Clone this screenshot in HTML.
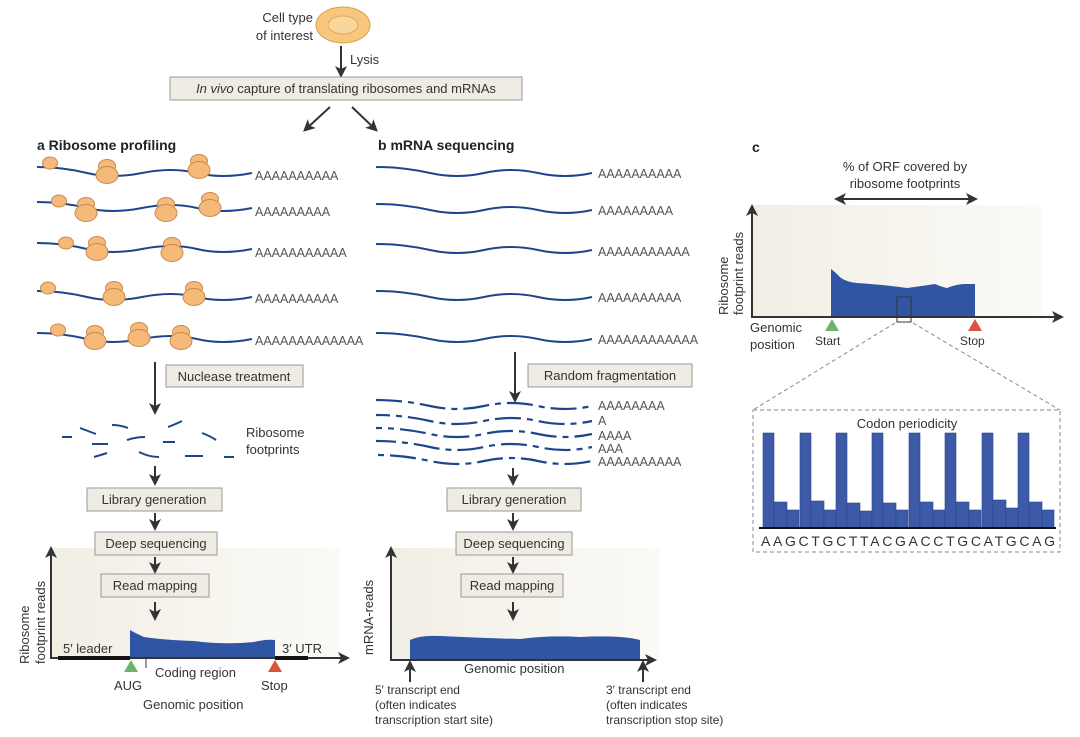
<!DOCTYPE html>
<html><head><meta charset="utf-8"><style>
body{margin:0;background:#fff}
svg{display:block;font-family:"Liberation Sans",sans-serif}
.t{fill:#333;font-size:13px}
.aa{fill:#555;font-size:12.5px}
.bx{fill:#efece3;stroke:#999;stroke-width:1}
.w{fill:none;stroke:#1d458c;stroke-width:2}
.fr{fill:none;stroke:#1d458c;stroke-width:2.2;stroke-dasharray:26 6 6 6}
.ar{stroke:#333;stroke-width:2}
</style></head><body>
<svg width="1080" height="737" viewBox="0 0 1080 737">
<defs>
<marker id="ahb" markerWidth="12" markerHeight="12" refX="8" refY="6" orient="auto-start-reverse" markerUnits="userSpaceOnUse"><path d="M0,0 L12,6 L0,12 L3,6 Z" fill="#333"/></marker>
<linearGradient id="bg" x1="0" x2="1"><stop offset="0" stop-color="#f1eee4"/><stop offset="1" stop-color="#fbfaf6"/></linearGradient>
<g id="rib"><ellipse cx="0" cy="-6" rx="8.5" ry="6.5" fill="#f5b97a" stroke="#c98a4a"/><ellipse cx="0" cy="3" rx="11" ry="8.5" fill="#f5b97a" stroke="#c98a4a"/></g>
<g id="sm"><ellipse cx="0" cy="-3" rx="7.5" ry="6" fill="#f5b97a" stroke="#c98a4a"/></g>
</defs>
<rect x="50" y="548" width="290" height="110" fill="url(#bg)"/>
<rect x="390" y="548" width="270" height="112" fill="url(#bg)"/>
<!-- top -->
<ellipse cx="343" cy="25" rx="27" ry="18" fill="#f7c77e" stroke="#d9a050"/>
<ellipse cx="343" cy="25" rx="15" ry="9" fill="#f9d79c" stroke="#e0aa60"/>
<text class="t" x="313" y="22" text-anchor="end">Cell type</text>
<text class="t" x="313" y="40" text-anchor="end">of interest</text>
<line class="ar" x1="341" y1="46" x2="341" y2="74" marker-end="url(#ahb)"/>
<text class="t" x="350" y="64">Lysis</text>
<rect class="bx" x="170" y="77" width="352" height="23"/>
<text class="t" x="346" y="93" text-anchor="middle"><tspan font-style="italic">In vivo</tspan> capture of translating ribosomes and mRNAs</text>
<line class="ar" x1="330" y1="107" x2="306" y2="129" marker-end="url(#ahb)"/>
<line class="ar" x1="352" y1="107" x2="375" y2="129" marker-end="url(#ahb)"/>
<text x="37" y="150" font-size="14" font-weight="bold" fill="#222">a  Ribosome profiling</text>
<text x="378" y="150" font-size="14" font-weight="bold" fill="#222">b  mRNA sequencing</text>
<text x="752" y="152" font-size="14" font-weight="bold" fill="#222">c</text>
<!-- a waves -->
<g>
<path class="w" d="M37 167 q25 0 50 6 t55 0 t55 0 t55 0"/>
<path class="w" d="M37 202 q25 0 50 6 t55 0 t55 0 t55 0"/>
<path class="w" d="M37 243 q25 0 50 6 t55 0 t55 0 t55 0"/>
<path class="w" d="M37 291 q25 0 50 6 t55 0 t55 0 t55 0"/>
<path class="w" d="M37 333 q25 0 50 6 t55 0 t55 0 t55 0"/>
<use href="#sm" x="50" y="166"/><use href="#rib" x="107" y="172"/><use href="#rib" x="199" y="167"/>
<use href="#sm" x="59" y="204"/><use href="#rib" x="86" y="210"/><use href="#rib" x="166" y="210"/><use href="#rib" x="210" y="205"/>
<use href="#sm" x="66" y="246"/><use href="#rib" x="97" y="249"/><use href="#rib" x="172" y="250"/>
<use href="#sm" x="48" y="291"/><use href="#rib" x="114" y="294"/><use href="#rib" x="194" y="294"/>
<use href="#sm" x="58" y="333"/><use href="#rib" x="95" y="338"/><use href="#rib" x="139" y="335"/><use href="#rib" x="181" y="338"/>
<text class="aa" x="255" y="180">AAAAAAAAAA</text>
<text class="aa" x="255" y="216">AAAAAAAAA</text>
<text class="aa" x="255" y="257">AAAAAAAAAAA</text>
<text class="aa" x="255" y="303">AAAAAAAAAA</text>
<text class="aa" x="255" y="345">AAAAAAAAAAAAA</text>
</g>
<line class="ar" x1="155" y1="362" x2="155" y2="411" marker-end="url(#ahb)"/>
<rect class="bx" x="166" y="365" width="137" height="22"/>
<text class="t" x="234" y="381" text-anchor="middle">Nuclease treatment</text>
<g stroke="#1d458c" stroke-width="2" fill="none">
<path d="M62 437 h10"/><path d="M80 428 q8 3 16 6"/><path d="M112 425 q8 0 16 3"/><path d="M168 427 q8 -3 14 -6"/><path d="M202 433 q8 3 14 7"/>
<path d="M92 444 h16"/><path d="M127 440 q9 -3 18 -3"/><path d="M163 442 h12"/><path d="M94 457 q7 -2 13 -4"/><path d="M139 452 q10 5 20 5"/><path d="M185 456 h18"/><path d="M224 457 h10"/>
</g>
<text class="t" x="246" y="437">Ribosome</text>
<text class="t" x="246" y="454">footprints</text>
<g class="ar"><line x1="155" y1="466" x2="155" y2="482" marker-end="url(#ahb)"/><line x1="155" y1="513" x2="155" y2="527" marker-end="url(#ahb)"/><line x1="155" y1="557" x2="155" y2="570" marker-end="url(#ahb)"/><line x1="155" y1="602" x2="155" y2="617" marker-end="url(#ahb)"/></g>
<rect class="bx" x="87" y="488" width="135" height="23"/><text class="t" x="154" y="504" text-anchor="middle">Library generation</text>
<rect class="bx" x="95" y="532" width="122" height="23"/><text class="t" x="156" y="548" text-anchor="middle">Deep sequencing</text>
<rect class="bx" x="101" y="574" width="108" height="23"/><text class="t" x="155" y="590" text-anchor="middle">Read mapping</text>
<path d="M130 658 V630 q5 3 14 7 q20 3 50 4 q30 4 60 1 q12 -3 21 -2 V658 Z" fill="#2f55a4"/>
<line x1="51" y1="658" x2="346" y2="658" stroke="#333" stroke-width="2" marker-end="url(#ahb)"/>
<line x1="51" y1="659" x2="51" y2="550" stroke="#333" stroke-width="2" marker-end="url(#ahb)"/>
<line x1="58" y1="658" x2="130" y2="658" stroke="#111" stroke-width="4"/><line x1="275" y1="658" x2="308" y2="658" stroke="#111" stroke-width="4"/>
<line x1="146" y1="658" x2="146" y2="668" stroke="#333"/>
<text class="t" x="63" y="653">5′ leader</text><text class="t" x="282" y="653">3′ UTR</text>
<polygon points="131,660 124,672 138,672" fill="#6bb56a"/><polygon points="275,660 268,672 282,672" fill="#d9553c"/>
<text class="t" x="155" y="677">Coding region</text>
<text class="t" x="114" y="690">AUG</text><text class="t" x="261" y="690">Stop</text>
<text class="t" x="143" y="709">Genomic position</text>
<text class="t" transform="translate(29,664) rotate(-90)">Ribosome</text>
<text class="t" transform="translate(45,664) rotate(-90)">footprint reads</text>
<!-- b waves -->
<g>
<path class="w" d="M376 167 q27 0 54 6 t54 0 t54 0 t54 0"/>
<path class="w" d="M376 204 q27 0 54 6 t54 0 t54 0 t54 0"/>
<path class="w" d="M376 244 q27 0 54 6 t54 0 t54 0 t54 0"/>
<path class="w" d="M376 291 q27 0 54 6 t54 0 t54 0 t54 0"/>
<path class="w" d="M376 333 q27 0 54 6 t54 0 t54 0 t54 0"/>
<text class="aa" x="598" y="178">AAAAAAAAAA</text>
<text class="aa" x="598" y="215">AAAAAAAAA</text>
<text class="aa" x="598" y="256">AAAAAAAAAAA</text>
<text class="aa" x="598" y="302">AAAAAAAAAA</text>
<text class="aa" x="598" y="344">AAAAAAAAAAAA</text>
</g>
<line class="ar" x1="515" y1="352" x2="515" y2="399" marker-end="url(#ahb)"/>
<rect class="bx" x="528" y="364" width="164" height="23"/>
<text class="t" x="610" y="380" text-anchor="middle">Random fragmentation</text>
<path class="fr" d="M376 400 q27 0 54 6 t54 0 t54 0 t54 0"/>
<path class="fr" d="M376 415 q27 0 54 6 t54 0 t54 0 t54 0" stroke-dashoffset="12"/>
<path class="fr" d="M376 428 q27 0 54 6 t54 0 t54 0 t54 0" stroke-dashoffset="20"/>
<path class="fr" d="M376 441 q27 0 54 6 t54 0 t54 0 t54 0" stroke-dashoffset="6"/>
<path class="fr" d="M376 455 q27 0 54 6 t54 0 t54 0 t54 0" stroke-dashoffset="30"/>
<text class="aa" x="598" y="410">AAAAAAAA</text><text class="aa" x="598" y="425">A</text><text class="aa" x="598" y="440">AAAA</text><text class="aa" x="598" y="453">AAA</text><text class="aa" x="598" y="466">AAAAAAAAAA</text>
<g class="ar"><line x1="513" y1="468" x2="513" y2="482" marker-end="url(#ahb)"/><line x1="513" y1="513" x2="513" y2="527" marker-end="url(#ahb)"/><line x1="513" y1="557" x2="513" y2="570" marker-end="url(#ahb)"/><line x1="513" y1="602" x2="513" y2="617" marker-end="url(#ahb)"/></g>
<rect class="bx" x="447" y="488" width="134" height="23"/><text class="t" x="514" y="504" text-anchor="middle">Library generation</text>
<rect class="bx" x="456" y="532" width="116" height="23"/><text class="t" x="514" y="548" text-anchor="middle">Deep sequencing</text>
<rect class="bx" x="461" y="574" width="102" height="23"/><text class="t" x="512" y="590" text-anchor="middle">Read mapping</text>
<path d="M410 660 V640 q10 -5 30 -4 q40 2 80 3 q30 -4 60 -2 q40 -2 60 3 V660 Z" fill="#2f55a4"/>
<line x1="391" y1="660" x2="653" y2="660" stroke="#333" stroke-width="2" marker-end="url(#ahb)"/>
<line x1="391" y1="661" x2="391" y2="550" stroke="#333" stroke-width="2" marker-end="url(#ahb)"/>
<line class="ar" x1="410" y1="682" x2="410" y2="664" marker-end="url(#ahb)"/>
<line class="ar" x1="643" y1="682" x2="643" y2="664" marker-end="url(#ahb)"/>
<text class="t" x="464" y="673">Genomic position</text>
<text class="t" transform="translate(373,655) rotate(-90)">mRNA-reads</text>
<text font-size="12" fill="#333"><tspan x="375" y="694">5′ transcript end</tspan><tspan x="375" y="709">(often indicates</tspan><tspan x="375" y="724">transcription start site)</tspan></text>
<text font-size="12" fill="#333"><tspan x="606" y="694">3′ transcript end</tspan><tspan x="606" y="709">(often indicates</tspan><tspan x="606" y="724">transcription stop site)</tspan></text>
<!-- c -->
<text class="t" x="905" y="171" text-anchor="middle">% of ORF covered by</text>
<text class="t" x="905" y="188" text-anchor="middle">ribosome footprints</text>
<line class="ar" x1="838" y1="199" x2="974" y2="199" marker-end="url(#ahb)" marker-start="url(#ahb)"/>
<rect x="752" y="205" width="290" height="112" fill="url(#bg)"/>
<path d="M831 317 V269 q4 3 10 9 q6 4 16 5 q30 2 50 5 q15 -2 28 -4 q7 3 12 4 q10 -4 18 -4 l10 0 V317 Z" fill="#2f55a4"/>
<line x1="752" y1="317" x2="1060" y2="317" stroke="#333" stroke-width="2" marker-end="url(#ahb)"/>
<line x1="752" y1="318" x2="752" y2="208" stroke="#333" stroke-width="2" marker-end="url(#ahb)"/>
<rect x="897" y="297" width="14" height="25" fill="none" stroke="#333"/>
<polygon points="832,319 825,331 839,331" fill="#6bb56a"/><polygon points="975,319 968,331 982,331" fill="#d9553c"/>
<text class="t" x="750" y="332">Genomic</text><text class="t" x="750" y="349">position</text>
<text font-size="12" fill="#333" x="815" y="345">Start</text><text font-size="12" fill="#333" x="960" y="345">Stop</text>
<text class="t" transform="translate(728,315) rotate(-90)">Ribosome</text>
<text class="t" transform="translate(743,315) rotate(-90)">footprint reads</text>
<g stroke="#888" stroke-dasharray="4 3" fill="none">
<line x1="895" y1="323" x2="753" y2="410"/><line x1="913" y1="323" x2="1060" y2="410"/>
<rect x="753" y="410" width="307" height="142"/>
</g>
<text class="t" x="907" y="428" text-anchor="middle">Codon periodicity</text>
<g fill="#3d5aa8" stroke="#2b4585" stroke-width="0.6">
<rect x="763" y="433" width="11" height="95"/><rect x="774" y="502" width="13" height="26"/><rect x="787" y="510" width="12" height="18"/>
<rect x="800" y="433" width="11" height="95"/><rect x="811" y="501" width="13" height="27"/><rect x="824" y="510" width="12" height="18"/>
<rect x="836" y="433" width="11" height="95"/><rect x="847" y="503" width="13" height="25"/><rect x="860" y="511" width="12" height="17"/>
<rect x="872" y="433" width="11" height="95"/><rect x="883" y="503" width="13" height="25"/><rect x="896" y="510" width="12" height="18"/>
<rect x="909" y="433" width="11" height="95"/><rect x="920" y="502" width="13" height="26"/><rect x="933" y="510" width="12" height="18"/>
<rect x="945" y="433" width="11" height="95"/><rect x="956" y="502" width="13" height="26"/><rect x="969" y="510" width="12" height="18"/>
<rect x="982" y="433" width="11" height="95"/><rect x="993" y="500" width="13" height="28"/><rect x="1006" y="508" width="12" height="20"/>
<rect x="1018" y="433" width="11" height="95"/><rect x="1029" y="502" width="13" height="26"/><rect x="1042" y="510" width="12" height="18"/>
</g>
<line x1="759" y1="528" x2="1056" y2="528" stroke="#111" stroke-width="2"/>
<text x="761" y="546" font-size="14" fill="#333" textLength="294" lengthAdjust="spacing">AAGCTGCTTACGACCTGCATGCAG</text>
</svg>
</body></html>
